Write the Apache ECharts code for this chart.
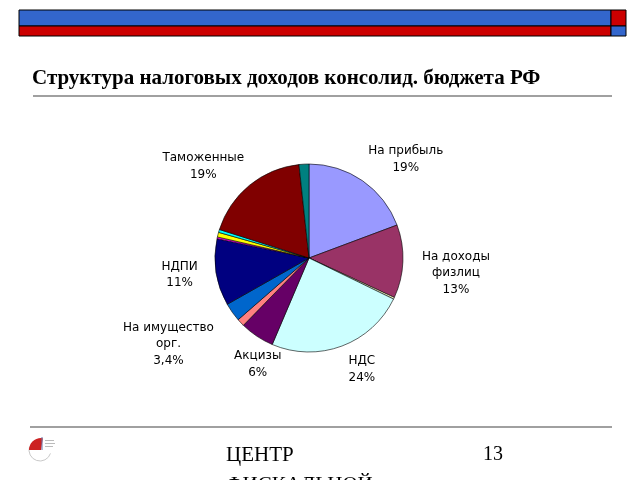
<!DOCTYPE html>
<html><head><meta charset="utf-8">
<script src="https://cdn.jsdelivr.net/npm/echarts@6/dist/echarts.min.js"></script>
<style>html,body{margin:0;padding:0;background:#fff}#c{width:640px;height:480px}</style>
</head><body><div id="c"></div>
<script>
var categories = ['На прибыль','На доходы физлиц','Прочие 1','НДС','Акцизы','Прочие 2','На имущество орг.','НДПИ','Прочие 3','Прочие 4','Прочие 5','Таможенные','Прочие 6'];
var values = [19.3, 12.6, 0.3, 24.2, 5.9, 1.3, 3.2, 11.5, 0.3, 0.8, 0.5, 18.4, 1.7];
var labelTexts = ['На прибыль\n19%','На доходы\nфизлиц\n13%','','НДС\n24%','Акцизы\n6%','','На имущество\nорг.\n3,4%','НДПИ\n11%','','','','Таможенные\n19%',''];
var colors = ['#9999ff','#993366','#ffffcc','#ccffff','#660066','#ff8080','#0066cc','#000080','#ff00ff','#ffff00','#00ffff','#800000','#008080'];
var labelOffsets = [[-25,-13],[-16,11],[0,0],[-22,14],[55,3],[0,0],[17,26],[12,1],[0,0],[0,0],[0,0],[26,-11],[0,0]];

var chart = echarts.init(document.getElementById('c'));
var data = categories.map(function(n,i){
  return {name:n, value:values[i], itemStyle:{color:colors[i]},
    label:{show: labelTexts[i] !== '', formatter: labelTexts[i]}};
});
chart.setOption({
  animation:false,
  graphic:[
    {type:'rect', shape:{x:19,y:10,width:592,height:16}, style:{fill:'#3366cc',stroke:'#000',lineWidth:1}},
    {type:'rect', shape:{x:19,y:26,width:592,height:10}, style:{fill:'#cc0000',stroke:'#000',lineWidth:1}},
    {type:'rect', shape:{x:611,y:10,width:15,height:16}, style:{fill:'#cc0000',stroke:'#000',lineWidth:1}},
    {type:'rect', shape:{x:611,y:26,width:15,height:10}, style:{fill:'#3366cc',stroke:'#000',lineWidth:1}},
    {type:'text', left:32, top:68, style:{text:'Структура налоговых доходов консолид. бюджета РФ', font:'bold 21px "Liberation Serif"', fill:'#000'}},
    {type:'line', shape:{x1:33,y1:96,x2:612,y2:96}, style:{stroke:'#808080',lineWidth:1.5}},
    {type:'line', shape:{x1:30,y1:427,x2:612,y2:427}, style:{stroke:'#808080',lineWidth:1.5}},
    {type:'text', left:226, top:445, style:{text:'ЦЕНТР', font:'21px "Liberation Serif"', fill:'#000'}},
    {type:'text', left:226, top:475, style:{text:'ФИСКАЛЬНОЙ', font:'21px "Liberation Serif"', fill:'#000'}},
    {type:'text', left:483, top:445, style:{text:'13', font:'20px "Liberation Serif"', fill:'#000'}},
    {type:'arc', shape:{cx:40,cy:450,r:11,startAngle:Math.PI*0.1,endAngle:Math.PI*1.1}, style:{stroke:'#c8c8c8',lineWidth:1,fill:'none'}},
    {type:'sector', shape:{cx:41,cy:450,r:12,r0:0,startAngle:Math.PI*1.0,endAngle:Math.PI*1.55}, style:{fill:'#cc2222'}},
    {type:'line', shape:{x1:42,y1:437,x2:42,y2:450}, style:{stroke:'#6677aa',lineWidth:1}},
    {type:'rect', shape:{x:45,y:440,width:9,height:1}, style:{fill:'#bbb'}},
    {type:'rect', shape:{x:45,y:443,width:10,height:1}, style:{fill:'#bbb'}},
    {type:'rect', shape:{x:45,y:446,width:8,height:1}, style:{fill:'#bbb'}}
  ],
  series:[{
    type:'pie', center:[309,258], radius:94, startAngle:90, clockwise:true,
    data:data,
    itemStyle:{borderColor:'#000',borderWidth:0.6},
    label:{position:'outside', color:'#000', fontFamily:'DejaVu Sans', fontSize:12, lineHeight:16.5},
    labelLine:{show:false, length:10, length2:20},
    labelLayout:function(p){
      var o = labelOffsets[p.dataIndex];
      var r = p.labelRect;
      return {x: r.x + r.width/2 + o[0], y: r.y + r.height/2 + o[1], align:'center', verticalAlign:'middle'};
    }
  }]
});
</script></body></html>
